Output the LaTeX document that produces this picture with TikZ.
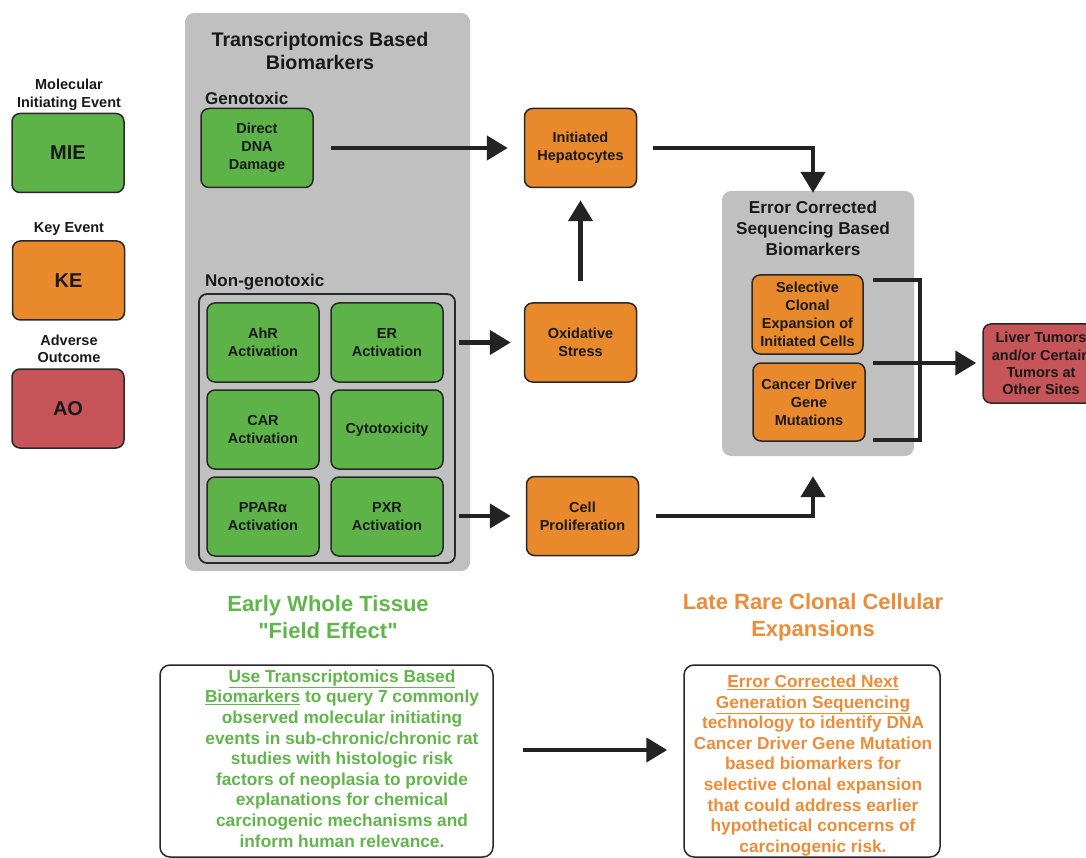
\documentclass[tikz,border=0pt]{standalone}
\usepackage{fontspec}
\setmainfont{Liberation Sans}
\newfontfamily\plainquote{Liberation Sans}
\usetikzlibrary{arrows.meta}
\definecolor{gfill}{RGB}{93,179,72}
\definecolor{ofill}{RGB}{232,138,44}
\definecolor{rfill}{RGB}{198,84,88}
\definecolor{pgray}{RGB}{192,192,192}
\definecolor{edge}{RGB}{40,40,40}
\definecolor{arrc}{RGB}{35,35,35}
\definecolor{gtextc}{RGB}{96,182,74}
\definecolor{otextc}{RGB}{237,140,55}
\definecolor{ink}{RGB}{25,25,25}
\newcommand{\sq}{{\plainquote\bfseries\symbol{34}}}
\begin{document}
\begin{tikzpicture}[x=1pt,y=-1pt,
  every node/.style={text=ink},
  evbox/.style={draw=edge, line width=1.5pt, rounded corners=8pt, minimum width=112pt,
    minimum height=79pt, align=center, inner sep=0pt,
    font=\fontsize{14.5}{18}\selectfont\bfseries},
  mie/.style={evbox, fill=gfill},
  ke/.style={evbox, fill=ofill},
  ao/.style={evbox, fill=rfill},
  legbox/.style={evbox, font=\fontsize{20}{24}\selectfont\bfseries},
  leglabel/.style={align=center, inner sep=0pt, font=\fontsize{14.5}{17.5}\selectfont\bfseries},
  panel/.style={fill=pgray, rounded corners=9pt, inner sep=0pt},
  frame/.style={draw=edge, line width=1.8pt, rounded corners=8pt, inner sep=0pt},
  ptitle/.style={align=center, inner sep=0pt, font=\fontsize{19.7}{23}\selectfont\bfseries},
  rtitle/.style={align=center, inner sep=0pt, font=\fontsize{17.2}{21}\selectfont\bfseries},
  sublabel/.style={anchor=west, inner sep=0pt, font=\fontsize{17}{20}\selectfont\bfseries},
  heading/.style={align=center, inner sep=0pt, font=\fontsize{22}{27}\selectfont\bfseries},
  textbox/.style={draw=edge, line width=1.5pt, rounded corners=10pt, inner sep=0pt},
  bodytext/.style={align=center, inner sep=0pt, font=\fontsize{17.3}{20.6}\selectfont\bfseries},
  arr/.style={draw=arrc, line width=4.5pt, -{Triangle[length=21pt,width=24pt]}},
  bline/.style={draw=arrc, line width=4.5pt, line join=miter}
]
\useasboundingbox (0,0) rectangle (1086,858);
\clip (0,0) rectangle (1086,858);

% Legend
\node[leglabel] (l1) at (69,95) {Molecular\\Initiating Event};
\node[legbox, fill=gfill] (lmie) at (68,153) {MIE};
\node[leglabel] (l2) at (69,229) {Key Event};
\node[legbox, fill=ofill] (lke) at (68.5,280.5) {KE};
\node[leglabel] (l3) at (69,349) {Adverse\\Outcome};
\node[legbox, fill=rfill] (lao) at (68,408.5) {AO};

% Left panel
\node[panel, minimum width=285pt, minimum height=558pt] (lp) at (327.5,292) {};
\node[ptitle] (lpt) at (320,50.5) {Transcriptomics Based\\Biomarkers};
\node[sublabel] (gen) at (205,98) {Genotoxic};
\node[mie] (dna) at (257,148) {Direct\\DNA\\Damage};
\node[sublabel] (ngl) at (205,282) {Non-genotoxic};
\node[frame, minimum width=256pt, minimum height=269pt] (ng) at (327,428.5) {};
\node[mie] (ahr) at (263,342.5) {AhR\\Activation};
\node[mie] (er) at (387,342.5) {ER\\Activation};
\node[mie] (car) at (263,429.5) {CAR\\Activation};
\node[mie] (cyt) at (387,429.5) {Cytotoxicity};
\node[mie] (ppar) at (263,516.5) {PPARα\\Activation};
\node[mie] (pxr) at (387,516.5) {PXR\\Activation};

% Key events
\node[ke] (hep) at (580.5,148) {Initiated\\Hepatocytes};
\node[ke] (ox) at (580.5,342.5) {Oxidative\\Stress};
\node[ke] (cp) at (582.5,516) {Cell\\Proliferation};

% Right panel
\node[panel, minimum width=192pt, minimum height=265pt] (rp) at (818,323.5) {};
\node[rtitle] (rpt) at (813,228) {Error Corrected\\Sequencing Based\\Biomarkers};
\node[ke, minimum width=111pt] (sel) at (807.5,314.5) {Selective\\Clonal\\Expansion of\\Initiated Cells};
\node[ke, minimum height=78pt] (cdg) at (809,402) {Cancer Driver\\Gene\\Mutations};

% Adverse outcome
\node[ao, minimum width=116pt, minimum height=79pt, font=\fontsize{14.5}{17.3}\selectfont\bfseries] (lt) at (1041,363.5) {Liver Tumors\\and/or Certain\\Tumors at\\Other Sites};

% Connectors
\draw[arr, shorten <=17pt, shorten >=16pt] (dna.east) -- (hep.west);
\draw[arr, shorten <=21pt, shorten >=12pt] (ox.north) -- (hep.south);
\draw[arr, shorten <=3pt, shorten >=13pt] (ng.east |- ox.west) -- (ox.west);
\draw[arr, shorten <=3pt, shorten >=15pt] (ng.east |- cp.west) -- (cp.west);
\draw[arr, shorten <=16pt, shorten >=-2pt] (hep.east) -| ([xshift=-5pt]rp.north);
\draw[arr, shorten <=17pt, shorten >=20pt] (cp.east) -| ([xshift=-5pt]rp.south);

% Bracket
\coordinate (b1) at (873,280);
\coordinate (b2) at (920,280);
\coordinate (b3) at (920,440);
\coordinate (b4) at (873,440);
\coordinate (bm) at (873,363);
\draw[bline] (b1) -- (b2) -- (b3) -- (b4);
\draw[arr, shorten >=6pt] (bm) -- (lt.west |- bm);

% Bottom
\node[heading, text=gtextc] (hg) at (328,617.5) {Early Whole Tissue\\\sq Field Effect\sq};
\node[heading, text=otextc] (ho) at (813,617.5) {Late Rare Clonal Cellular\\Expansions};
\node[textbox, minimum width=333pt, minimum height=192pt] (lb) at (326.5,761) {};
\node[textbox, minimum width=256pt, minimum height=192pt] (rb) at (812,761) {};
\node[bodytext, text=gtextc] (lbt) at (342,758.5) {\underline{Use Transcriptomics Based}\\
\underline{Biomarkers} to query 7 commonly\\
observed molecular initiating\\
events in sub-chronic/chronic rat\\
studies with histologic risk\\
factors of neoplasia to provide\\
explanations for chemical\\
carcinogenic mechanisms and\\
inform human relevance.};
\node[bodytext, text=otextc] (rbt) at (813,765.5) {\underline{Error Corrected Next}\\
\underline{Generation Sequencing}\\
technology to identify DNA\\
Cancer Driver Gene Mutation\\
based biomarkers for\\
selective clonal expansion\\
that could address earlier\\
hypothetical concerns of\\
carcinogenic risk.};
\draw[arr, shorten <=29pt, shorten >=16pt] ([yshift=11pt]lb.east) -- ([yshift=11pt]rb.west);
\end{tikzpicture}
\end{document}
